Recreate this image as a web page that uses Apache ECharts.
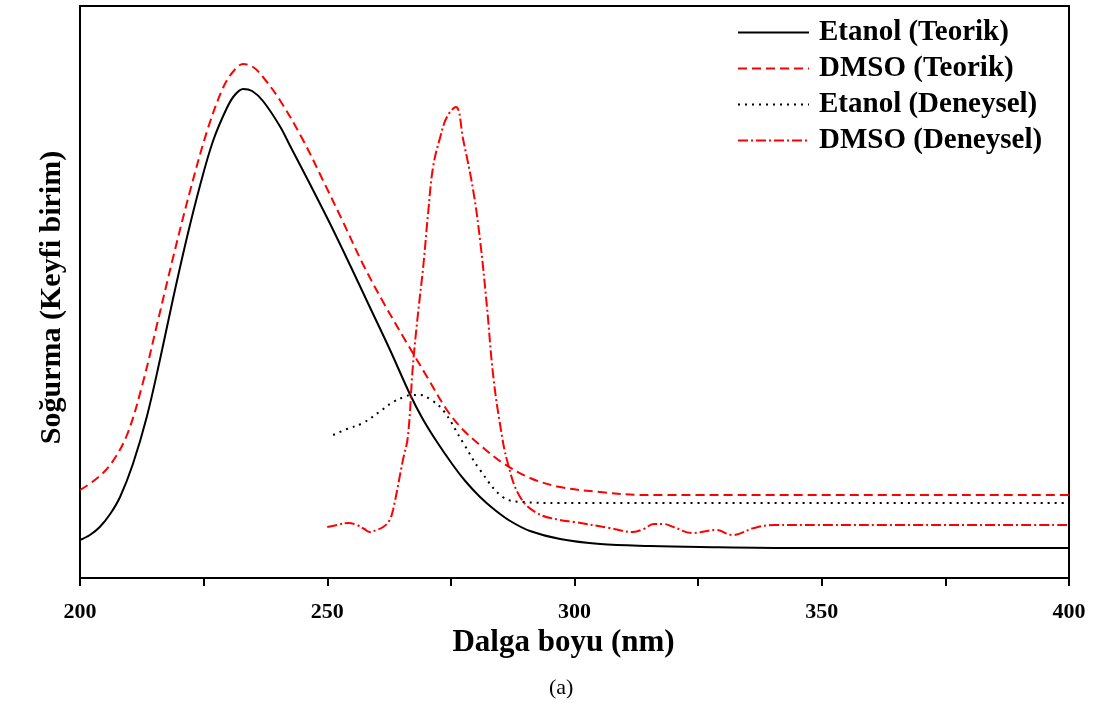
<!DOCTYPE html>
<html><head><meta charset="utf-8">
<script src="https://cdn.jsdelivr.net/npm/echarts@6/dist/echarts.min.js"></script>
<style>html,body{margin:0;padding:0;background:#fff}#c{width:1101px;height:708px}</style>
</head><body><div id="c"></div>
<script>
const xTicks = [200, 225, 250, 275, 300, 325, 350, 375, 400];
const seriesNames = ['Etanol (Teorik)', 'DMSO (Teorik)', 'Etanol (Deneysel)', 'DMSO (Deneysel)'];
const etanolTeorik = [[200,38],[202,43],[204,51],[206.1,64],[208.1,81],[210.7,114],[213.5,161],[216.2,219],[218.8,279],[221.6,340],[224.3,393],[226.9,437],[229.7,470],[231.3,483],[233,489],[234.8,487],[237,477],[240.4,452],[242.5,432],[246.5,394],[250.6,354],[254.6,313],[258.6,271],[262.7,228],[266.7,184],[269.2,160],[271.8,139],[275.4,113],[277.9,97],[280.9,81],[283.9,68],[287,57],[291,47],[297.1,39],[305.2,34],[315.3,32],[325.4,31],[345.6,30],[400,30]];
const dmsoTeorik = [[200,88],[203,98],[206.1,113],[209.5,143],[212.7,195],[215.6,254],[218.8,320],[222.2,386],[225.7,447],[228.9,490],[230.9,506],[233,514],[235,511],[237,501],[240.4,478],[245.1,438],[249.1,398],[253.2,356],[257.2,314],[261.3,276],[266.1,235],[270.2,201],[274.2,168],[277.5,148],[280.9,133],[285.5,115],[291,100],[297.1,91],[305.2,86],[313.9,83],[400,83]];
const etanolDeneysel = [[251.2,143],[254,149],[257.2,155],[260.5,166],[263.3,176],[265.5,181],[267.1,183],[268.8,183],[271,178],[273.4,168],[277.5,135],[280.9,108],[285.5,81],[289.6,76],[297,75],[400,75]];
const dmsoDeneysel = [[250,51],[252,53],[254.2,55],[256,53],[257.5,49],[258.6,46],[260,48],[261.3,51],[262.5,57],[263.3,68],[265.3,118],[266.3,141],[267.3,211],[268.3,262],[269.4,311],[270.4,365],[271.4,411],[272.8,440],[274.2,461],[276,471],[277.5,438],[279.5,388],[280.9,338],[282.3,271],[283.5,205],[284.9,155],[286.5,115],[289,81],[292.4,65],[297,58],[300,56],[307,50],[311.8,46],[314,49],[316,54],[318,54],[320,51],[323.8,45],[328.6,48],[332,43],[336.3,50],[340.3,53],[349,53],[400,53]];

const serif = "'Liberation Serif', 'Times New Roman', serif";
const chart = echarts.init(document.getElementById('c'));
function mk(name, data, color, type, s) {
  return {name, type: 'line', data, symbol: 'none', showSymbol: false, smooth: s,
    lineStyle: {color, width: 2, type}, itemStyle: {color}};
}
chart.setOption({
  animation: false,
  backgroundColor: '#fff',
  grid: {left: 80, right: 32, top: 6, bottom: 130, show: true, borderColor: '#000', borderWidth: 2},
  legend: {
    orient: 'vertical', left: 732, top: 13, itemWidth: 71, itemHeight: 14, itemGap: 7,
    data: seriesNames,
    itemStyle: {opacity: 0},
    textStyle: {fontFamily: serif, fontWeight: 'bold', fontSize: 29, color: '#000', lineHeight: 28, padding: [0,0,0,5]}
  },
  xAxis: {
    type: 'value', min: xTicks[0], max: xTicks[xTicks.length-1], interval: 25,
    axisLine: {lineStyle: {color: '#000', width: 2}},
    axisTick: {inside: false, length: 8, lineStyle: {color: '#000', width: 2}},
    splitLine: {show: false},
    axisLabel: {margin: 23, fontFamily: serif, fontWeight: 'bold', fontSize: 22, color: '#000',
      formatter: v => (v % 50 === 0 ? String(v) : '')},
    name: 'Dalga boyu (nm)', nameLocation: 'middle', nameGap: 42,
    nameTextStyle: {fontFamily: serif, fontWeight: 'bold', fontSize: 31, color: '#000', padding: [0, 22, 0, 0]}
  },
  yAxis: {
    type: 'value', min: 0, max: 572,
    axisLine: {show: true, lineStyle: {color: '#000', width: 2}},
    axisTick: {show: false}, axisLabel: {show: false}, splitLine: {show: false},
    name: 'Soğurma (Keyfi birim)', nameLocation: 'middle', nameGap: 13, nameRotate: 90,
    nameTextStyle: {fontFamily: serif, fontWeight: 'bold', fontSize: 30, color: '#000', padding: [0, 11, 0, 0]}
  },
  graphic: [{type: 'text', left: 549, top: 677, style: {text: '(a)', font: "22px 'Liberation Serif'", fill: '#000'}}],
  series: [
    mk(seriesNames[0], etanolTeorik, '#000', 'solid', 0.35),
    mk(seriesNames[1], dmsoTeorik, '#ff0000', [9, 5], 0.35),
    mk(seriesNames[2], etanolDeneysel, '#000', [2, 5], 0.4),
    mk(seriesNames[3], dmsoDeneysel, '#ff0000', [10, 3, 2, 3], 0.4)
  ]
});
</script></body></html>
